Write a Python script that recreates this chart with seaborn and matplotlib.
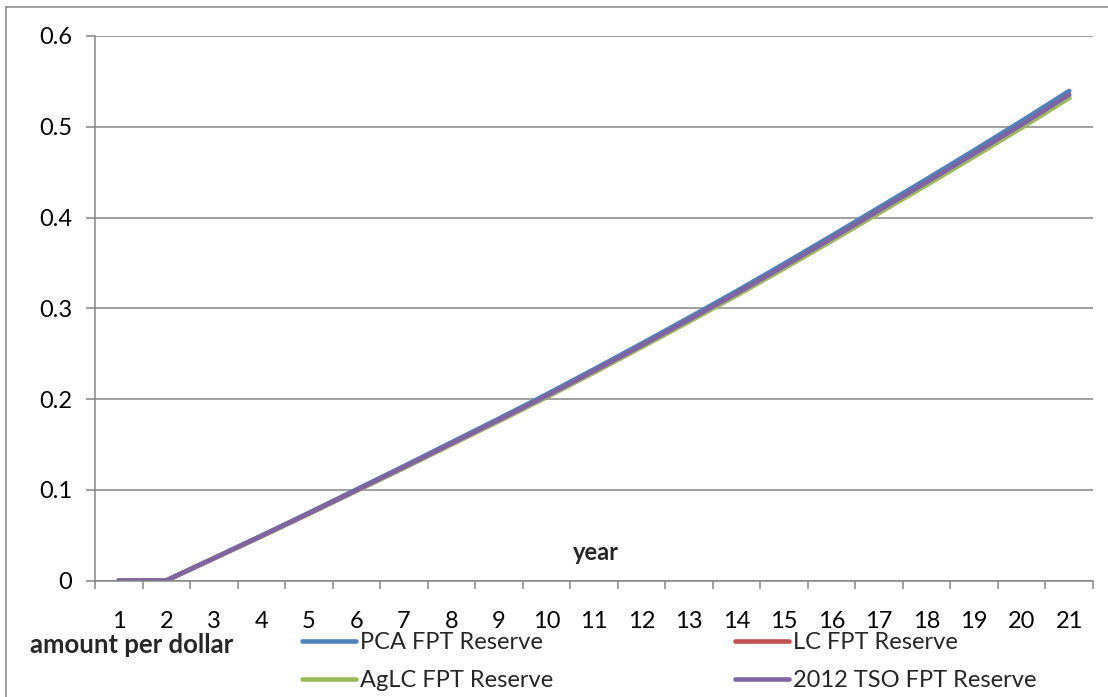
import matplotlib
matplotlib.use("Agg")
import matplotlib.pyplot as plt
from matplotlib.lines import Line2D
from matplotlib.ticker import FixedLocator, FuncFormatter
import pandas as pd
import seaborn as sns

# Reserve amount per dollar of coverage, by policy year
years = list(range(1, 22))
pca_reserve = [0, 0, 0.0247, 0.0494, 0.0746, 0.1003, 0.1260, 0.1522, 0.1784, 0.2051,
               0.2328, 0.2610, 0.2897, 0.3189, 0.3491, 0.3798, 0.4111, 0.4423, 0.4741,
               0.5064, 0.5395]
lc_reserve = [0, 0, 0.0243, 0.0487, 0.0736, 0.0989, 0.1242, 0.1501, 0.1759, 0.2022,
              0.2295, 0.2574, 0.2857, 0.3145, 0.3443, 0.3746, 0.4055, 0.4363, 0.4677,
              0.4995, 0.5323]
aglc_reserve = [0, 0, 0.0243, 0.0486, 0.0735, 0.0988, 0.1241, 0.1499, 0.1757, 0.2020,
                0.2293, 0.2571, 0.2854, 0.3142, 0.3440, 0.3743, 0.4051, 0.4359, 0.4672,
                0.4990, 0.5318]
tso_reserve = [0, 0, 0.0245, 0.0490, 0.0740, 0.0995, 0.1250, 0.1510, 0.1770, 0.2035,
               0.2310, 0.2590, 0.2875, 0.3165, 0.3465, 0.3770, 0.4080, 0.4390, 0.4705,
               0.5025, 0.5355]

series_names = ["PCA FPT Reserve", "LC FPT Reserve", "AgLC FPT Reserve", "2012 TSO FPT Reserve"]
series_values = [pca_reserve, lc_reserve, aglc_reserve, tso_reserve]
series_colors = ["#4F81BD", "#C0504D", "#9BBB59", "#8064A2"]
y_ticks = [0, 0.1, 0.2, 0.3, 0.4, 0.5, 0.6]

frames = []
for name, vals in zip(series_names, series_values):
    frames.append(pd.DataFrame({"year": years, "value": vals, "series": name}))
df = pd.concat(frames, ignore_index=True)

sns.set_style("white")
plt.rcParams["font.family"] = ["Lato", "DejaVu Sans"]

FS = 17
grid_col = "#868686"
W, H = 1108, 697
fig = plt.figure(figsize=(W / 100, H / 100), dpi=100)
ax = fig.add_axes([95 / W, 1 - 580.5 / H, (1093 - 95) / W, (580.5 - 36) / H])

sns.lineplot(data=df, x="year", y="value", hue="series", hue_order=series_names,
             palette=series_colors, linewidth=3.3, ax=ax, legend=False,
             solid_capstyle="round")

ax.set_xlim(0.5, 21.5)
ax.set_ylim(0, 0.6)

# horizontal gridlines and gray axis lines
ax.yaxis.set_major_locator(FixedLocator(y_ticks))
ax.yaxis.set_major_formatter(FuncFormatter(lambda v, p: "0" if v == 0 else f"{v:.1f}"))
ax.grid(axis="y", color=grid_col, linewidth=1.1)
ax.grid(axis="x", visible=False)
ax.set_axisbelow(True)
for s in ["top", "right"]:
    ax.spines[s].set_visible(False)
for s in ["left", "bottom"]:
    ax.spines[s].set_color(grid_col)
    ax.spines[s].set_linewidth(1.1)

ax.tick_params(axis="y", which="major", length=6.5, width=1.1, color=grid_col,
               labelsize=FS, pad=10, direction="out", left=True)

# category labels centred, tick marks on category boundaries
ax.xaxis.set_major_locator(FixedLocator(years))
ax.xaxis.set_minor_locator(FixedLocator([y - 0.5 for y in years] + [years[-1] + 0.5]))
ax.tick_params(axis="x", which="major", length=0, labelsize=FS, pad=22)
ax.tick_params(axis="x", which="minor", length=6, width=1.1, color=grid_col,
               direction="out", bottom=True)

for lab in ax.get_xticklabels() + ax.get_yticklabels():
    lab.set_color("black")

ax.set_xlabel("year", fontsize=FS, fontweight="bold", va="center")
ax.xaxis.set_label_coords((596 - 95) / 998, (580.5 - 553) / 544.5)
ax.set_ylabel("amount per dollar", fontsize=FS + 1.5, fontweight="bold", rotation=0,
              ha="left", va="center")
ax.yaxis.set_label_coords((30 - 95) / 998, (580.5 - 645) / 544.5)

handles = ax.get_lines()[:4]
order = [0, 2, 1, 3]
leg = ax.legend([handles[i] for i in order], [series_names[i] for i in order],
                ncol=2, frameon=False, fontsize=FS, handlelength=2.3,
                handletextpad=0.15, columnspacing=7.7, labelspacing=0.72,
                loc="upper left", bbox_to_anchor=((302 - 95) / 998, (580.5 - 632) / 544.5),
                borderaxespad=0, borderpad=0)
for ln in leg.get_lines():
    ln.set_linewidth(3.3)
    ln.set_solid_capstyle("round")

# outer chart border (left and top edges)
fig.add_artist(Line2D([6 / W, 6 / W], [0, 1 - 7 / H], transform=fig.transFigure,
                      color=grid_col, linewidth=1.1))
fig.add_artist(Line2D([6 / W, 1], [1 - 7 / H, 1 - 7 / H], transform=fig.transFigure,
                      color=grid_col, linewidth=1.1))

fig.savefig("out.png", dpi=100, facecolor="white")
